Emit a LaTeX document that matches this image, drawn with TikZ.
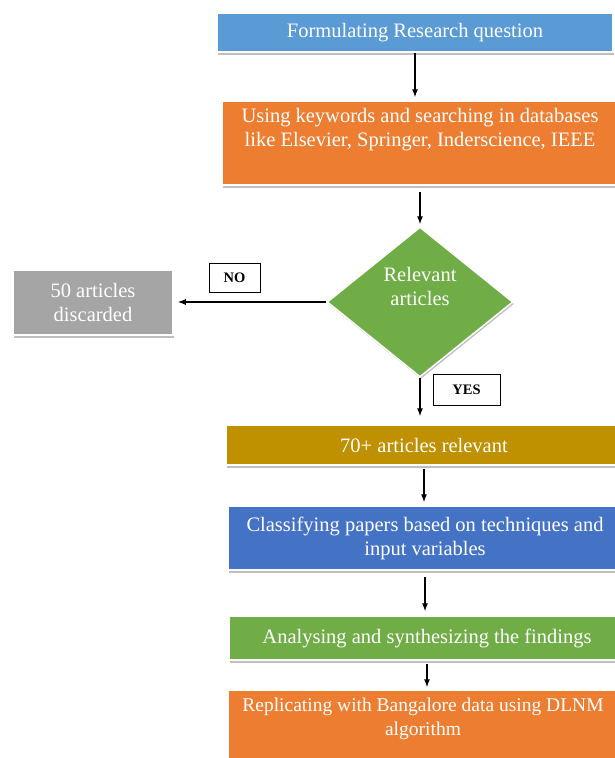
\documentclass[tikz,border=0pt]{standalone}
\usepackage{fontspec}
\setmainfont{Liberation Serif}
\usetikzlibrary{shapes.geometric,shadows,arrows.meta}

\definecolor{qblue}{HTML}{5B9BD5}
\definecolor{qorange}{HTML}{ED7D31}
\definecolor{qgreen}{HTML}{70AD47}
\definecolor{qgray}{HTML}{A5A5A5}
\definecolor{qgold}{HTML}{BF9000}
\definecolor{qdeepblue}{HTML}{4472C4}

\begin{document}
\begin{tikzpicture}[x=1pt, y=-1pt,
                stage/.style={rectangle, draw=white, line width=1.5pt, drop shadow={shadow xshift=1pt, shadow yshift=-3pt, fill=black!25, opacity=1}, text=white, align=center, inner sep=0pt, font=\fontsize{20.5}{24}\selectfont},
                decision/.style={diamond, draw=white, line width=1.5pt, drop shadow={shadow xshift=1pt, shadow yshift=-2pt, fill=black!25, opacity=1}, text=white, align=center, inner sep=0pt, minimum width=186pt, minimum height=150pt, font=\fontsize{20.5}{24}\selectfont},
                answer/.style={rectangle, draw=black, line width=0.9pt, fill=white, inner sep=0pt, font=\bfseries\fontsize{14.5}{16}\selectfont},
                flow/.style={-{Latex[length=8pt,width=6pt]}, line width=1.1pt}
            ]
            \useasboundingbox (0,0) rectangle (614,758);
            \node (question) [stage, fill=qblue, minimum width=396pt, minimum height=39pt] at (415,32.5) {Formulating Research question};
            \node (search) [stage, fill=qorange, minimum width=396pt, minimum height=84pt] at (420,143) {Using keywords and searching in databases\\like Elsevier, Springer, Inderscience, IEEE\\\strut};
            \node (decide) [decision, fill=qgreen] at (420,302) {Relevant\\articles\\\strut};
            \node (discard) [stage, fill=qgray, minimum width=160pt, minimum height=65pt] at (93,302.5) {50 articles\\discarded};
            \node (no) [answer, minimum width=51pt, minimum height=29pt] at (234.5,277.5) {NO};
            \node (yes) [answer, minimum width=67pt, minimum height=31pt] at (466.5,389.5) {YES};
            \node (relevant) [stage, fill=qgold, minimum width=396pt, minimum height=40pt] at (424,445) {70+ articles relevant};
            \node (classify) [stage, fill=qdeepblue, minimum width=394pt, minimum height=64pt] at (425,538) {Classifying papers based on techniques and\\input variables};
            \node (analyse) [stage, fill=qgreen, minimum width=396pt, minimum height=44pt] at (427,638) {Analysing and synthesizing the findings};
            \node (replicate) [stage, fill=qorange, minimum width=390pt, minimum height=85pt, font=\fontsize{19.5}{24}\selectfont] at (423,732.5) {Replicating with Bangalore data using DLNM\\algorithm\\\strut};

            \draw[flow, shorten >=3pt] (question.south) -- (question.south |- search.north);
            \draw[flow, shorten <=6pt, shorten >=2pt] (search.south) -- (decide.north);
            \draw[flow, shorten >=4pt] (decide.west) -- (decide.west -| discard.east);
            \draw[flow, shorten >=8pt] (decide.south) -- (decide.south |- relevant.north);
            \draw[flow, shorten <=3pt, shorten >=3pt] (relevant.south) -- (relevant.south |- classify.north);
            \draw[flow, shorten <=6pt, shorten >=4pt] (classify.south) -- (classify.south |- analyse.north);
            \draw[flow, shorten <=3pt, shorten >=2pt] (analyse.south) -- (analyse.south |- replicate.north);
\end{tikzpicture}
\end{document}
